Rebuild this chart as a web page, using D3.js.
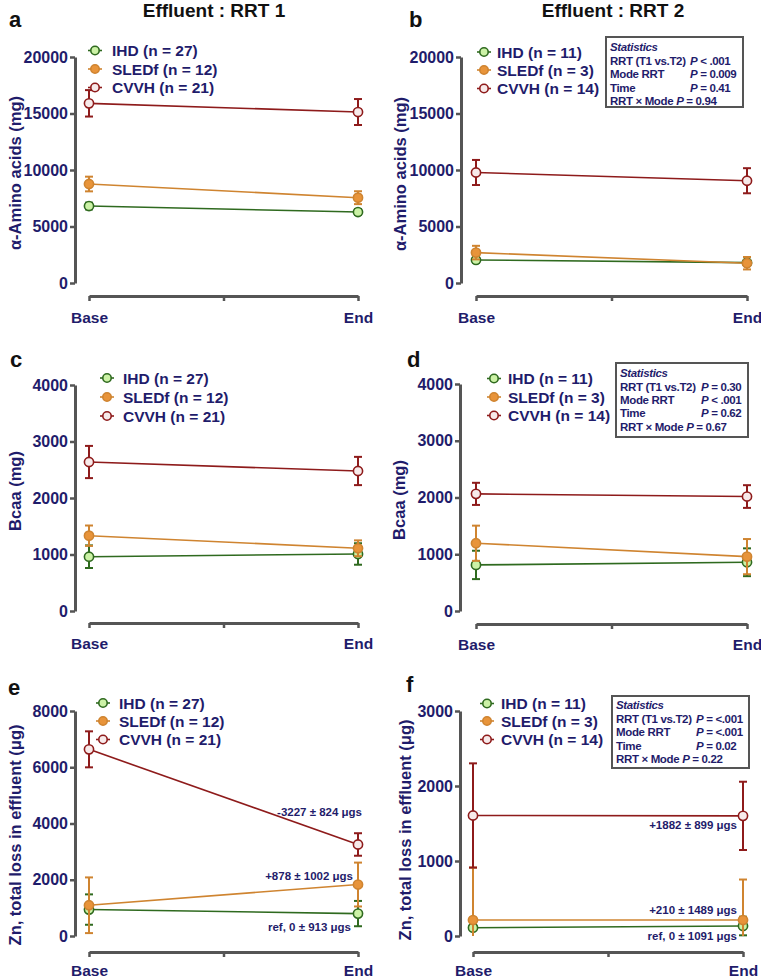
<!DOCTYPE html>
<html>
<head>
<meta charset="utf-8">
<script src="https://cdn.jsdelivr.net/npm/d3@7/dist/d3.min.js"></script>
<style>
  html, body { margin: 0; padding: 0; background: #fff; }
  svg { display: block; font-family: "Liberation Sans", Arial, sans-serif; }
</style>
</head>
<body>
<svg id="chart" width="761" height="979"></svg>
<script>
// ---------------- DATA ----------------
const categories = ["Base", "End"];
const groups = ["IHD", "SLEDf", "CVVH"];
const nRRT1 = [27, 12, 21];
const nRRT2 = [11, 3, 14];
const titles = ["Effluent : RRT 1", "Effluent : RRT 2"];

// α-Amino acids (mg) – rows: IHD, SLEDf, CVVH ; cols: Base, End
const aaRRT1Mean = [[6810, 6280], [8760, 7550], [15900, 15130]];
const aaRRT1Sem  = [[300, 250], [650, 570], [1170, 1150]];
const aaRRT2Mean = [[2040, 1800], [2690, 1750], [9780, 9050]];
const aaRRT2Sem  = [[250, 220], [600, 550], [1110, 1110]];

// Bcaa (mg)
const bcaaRRT1Mean = [[961, 1009], [1333, 1110], [2637, 2478]];
const bcaaRRT1Sem  = [[200, 190], [180, 140], [285, 250]];
const bcaaRRT2Mean = [[812, 859], [1194, 958], [2064, 2017]];
const bcaaRRT2Sem  = [[250, 245], [310, 310], [195, 200]];

// Zn total loss in effluent (µg)
const znRRT1Mean = [[940, 797], [1093, 1830], [6637, 3254]];
const znRRT1Sem  = [[540, 450], [990, 780], [640, 400]];
const znRRT2Mean = [[111, 133], [213, 213], [1607, 1602]];
const znRRT2Sem  = [[125, 124], [700, 540], [695, 455]];

const yTicksAA = [0, 5000, 10000, 15000, 20000];
const yTicksBcaa = [0, 1000, 2000, 3000, 4000];
const yTicksZn1 = [0, 2000, 4000, 6000, 8000];
const yTicksZn2 = [0, 1000, 2000, 3000];

const znRRT1Notes = ["ref, 0 ± 913 μgs", "+878 ± 1002 μgs", "-3227 ± 824 μgs"];
const znRRT2Notes = ["ref, 0 ± 1091 μgs", "+210 ± 1489 μgs", "+1882 ± 899 μgs"];

const statsLabels = ["RRT (T1 vs.T2)", "Mode RRT", "Time", "RRT × Mode"];
const statsAA   = ["< .001", "= 0.009", "= 0.41", "= 0.94"];
const statsBcaa = ["= 0.30", "< .001", "= 0.62", "= 0.67"];
const statsZn   = ["= <.001", "= <.001", "= 0.02", "= 0.22"];

// ---------------- STYLE ----------------
const NAVY = "#1f1c6b";
const AXIS = "#555555";
const lineCol = ["#2f6a1f", "#cf8430", "#8e1b1b"];
const fillCol = ["#ccf2a6", "#e8943a", "#f7eaea"];

const svg = d3.select("#chart");

// titles
svg.append("text").attr("x", 214).attr("y", 17).attr("text-anchor", "middle")
  .attr("font-size", 19).attr("font-weight", "bold").attr("fill", "#111").text(titles[0]);
svg.append("text").attr("x", 613).attr("y", 17).attr("text-anchor", "middle")
  .attr("font-size", 19).attr("font-weight", "bold").attr("fill", "#111").text(titles[1]);

function panel(c) {
  const g = svg.append("g");
  g.append("text").attr("x", c.letter[1]).attr("y", c.letter[2])
    .attr("font-size", 22).attr("font-weight", "bold").attr("fill", "#111").text(c.letter[0]);

  const y = d3.scaleLinear().domain([0, d3.max(c.ticks)]).range([c.yBottom, c.yTop]);
  const xl = d3.scaleLinear().domain([0, 1]).range([c.xLeft, c.xRight]);
  const x = d3.scalePoint().domain(categories).range([c.xLeft, c.xRight]);

  // y axis
  const ya = g.append("g").attr("transform", `translate(${c.yAxisX},0)`)
    .call(d3.axisLeft(y).tickValues(c.ticks).tickFormat(d3.format("d"))
      .tickSize(5).tickSizeOuter(0).tickPadding(2));
  ya.select(".domain").attr("stroke", AXIS).attr("stroke-width", 3);
  ya.selectAll(".tick line").attr("stroke", AXIS).attr("stroke-width", 2.5);
  ya.selectAll(".tick text").attr("fill", NAVY).attr("font-size", 16)
    .attr("font-weight", "bold").attr("font-family", "Liberation Sans, Arial, sans-serif");

  // x axis (separate, offset)
  const xa = g.append("g").attr("transform", `translate(0,${c.xAxisY})`)
    .call(d3.axisBottom(xl).tickValues([0, 0.5, 1])
      .tickFormat(d => d === 0 ? categories[0] : d === 1 ? categories[1] : "")
      .tickSize(5).tickSizeOuter(0).tickPadding(c.xPad));
  xa.select(".domain").attr("stroke", AXIS).attr("stroke-width", 3);
  xa.selectAll(".tick line").attr("stroke", AXIS).attr("stroke-width", 2.5);
  xa.selectAll(".tick text").attr("fill", NAVY).attr("font-size", 15.5)
    .attr("font-weight", "bold").attr("font-family", "Liberation Sans, Arial, sans-serif");

  // y label
  g.append("text").attr("transform", `translate(${c.ylab[0]},${c.ylab[1]}) rotate(-90)`)
    .attr("text-anchor", "middle").attr("dominant-baseline", "central")
    .attr("font-size", 16.5).attr("font-weight", "bold").attr("fill", NAVY)
    .text(c.ylabel);

  // series
  groups.forEach((grp, i) => {
    const pts = categories.map((cat, j) => ({ cat, m: c.means[i][j], s: c.sems[i][j] }));
    const sg = g.append("g");
    sg.append("path").datum(pts)
      .attr("d", d3.line().x(d => x(d.cat)).y(d => y(d.m)))
      .attr("fill", "none").attr("stroke", lineCol[i]).attr("stroke-width", 1.6);
    pts.forEach(d => {
      const top = y(d.m + d.s), bot = y(Math.max(0, d.m - d.s));
      sg.append("line").attr("x1", x(d.cat)).attr("x2", x(d.cat)).attr("y1", top).attr("y2", bot)
        .attr("stroke", lineCol[i]).attr("stroke-width", 2);
      sg.append("line").attr("x1", x(d.cat) - 4).attr("x2", x(d.cat) + 4).attr("y1", top).attr("y2", top)
        .attr("stroke", lineCol[i]).attr("stroke-width", 2);
      if (d.m - d.s > 0)
        sg.append("line").attr("x1", x(d.cat) - 4).attr("x2", x(d.cat) + 4).attr("y1", bot).attr("y2", bot)
          .attr("stroke", lineCol[i]).attr("stroke-width", 2);
    });
    sg.selectAll("circle").data(pts).join("circle")
      .attr("cx", d => x(d.cat)).attr("cy", d => y(d.m)).attr("r", 4.6)
      .attr("fill", fillCol[i]).attr("stroke", lineCol[i]).attr("stroke-width", 1.6);
  });

  // legend
  groups.forEach((grp, i) => {
    const ly = c.leg.y[i];
    g.append("line").attr("x1", c.leg.mx - 7).attr("x2", c.leg.mx + 7).attr("y1", ly).attr("y2", ly)
      .attr("stroke", lineCol[i]).attr("stroke-width", 1.6);
    g.append("circle").attr("cx", c.leg.mx).attr("cy", ly).attr("r", 4.2)
      .attr("fill", fillCol[i]).attr("stroke", lineCol[i]).attr("stroke-width", 1.6);
    g.append("text").attr("x", c.leg.tx).attr("y", ly).attr("dominant-baseline", "central")
      .attr("font-size", 15.5).attr("font-weight", "bold").attr("fill", NAVY)
      .text(`${grp} (n = ${c.ns[i]})`);
  });

  // notes
  if (c.notes) {
    groups.forEach((grp, i) => {
      g.append("text").attr("x", c.noteX[i]).attr("y", y(c.means[i][1]) + c.noteDy[i])
        .attr("text-anchor", "end").attr("dominant-baseline", "central")
        .attr("font-size", 11.5).attr("font-weight", "bold").attr("fill", NAVY)
        .text(c.notes[i]);
    });
  }

  // stats box
  if (c.stats) {
    const b = c.box;
    g.append("rect").attr("x", b.x).attr("y", b.y).attr("width", b.w).attr("height", b.h)
      .attr("fill", "#fff").attr("stroke", AXIS).attr("stroke-width", 2);
    const fs = 11.5, ls = -0.35;
    g.append("text").attr("x", b.x + 4).attr("y", b.rows[0]).attr("dominant-baseline", "central")
      .attr("font-size", fs).attr("font-weight", "bold").attr("font-style", "italic").attr("fill", NAVY)
      .attr("letter-spacing", ls).text("Statistics");
    statsLabels.forEach((lab, k) => {
      const ry = b.rows[k + 1];
      if (k < 3) {
        g.append("text").attr("x", b.x + 4).attr("y", ry).attr("dominant-baseline", "central")
          .attr("font-size", fs).attr("font-weight", "bold").attr("fill", NAVY)
          .attr("letter-spacing", ls).text(lab);
        const t = g.append("text").attr("x", b.px).attr("y", ry).attr("dominant-baseline", "central")
          .attr("font-size", fs).attr("font-weight", "bold").attr("fill", NAVY).attr("letter-spacing", ls);
        t.append("tspan").attr("font-style", "italic").text("P");
        t.append("tspan").text(" " + c.stats[k]);
      } else {
        const t = g.append("text").attr("x", b.x + 4).attr("y", ry).attr("dominant-baseline", "central")
          .attr("font-size", fs).attr("font-weight", "bold").attr("fill", NAVY).attr("letter-spacing", ls);
        t.append("tspan").text(lab + " ");
        t.append("tspan").attr("font-style", "italic").text("P");
        t.append("tspan").text(" " + c.stats[k]);
      }
    });
  }
}

panel({
  letter: ["a", 9, 27], ticks: yTicksAA, means: aaRRT1Mean, sems: aaRRT1Sem, ns: nRRT1,
  yAxisX: 75, yTop: 57, yBottom: 283, xAxisY: 296, xLeft: 89, xRight: 358, xPad: 11,
  ylab: [15, 173], ylabel: "α-Amino acids (mg)",
  leg: { mx: 95, tx: 112, y: [50.5, 69, 87.5] }
});
panel({
  letter: ["b", 409, 27], ticks: yTicksAA, means: aaRRT2Mean, sems: aaRRT2Sem, ns: nRRT2,
  yAxisX: 461, yTop: 57, yBottom: 283, xAxisY: 296, xLeft: 476, xRight: 747, xPad: 11,
  ylab: [400, 174], ylabel: "α-Amino acids (mg)",
  leg: { mx: 484, tx: 497, y: [52, 70, 88.5] },
  stats: statsAA, box: { x: 606, y: 37, w: 137, h: 70, px: 690, rows: [47, 60.5, 74, 87.5, 101] }
});
panel({
  letter: ["c", 10, 367], ticks: yTicksBcaa, means: bcaaRRT1Mean, sems: bcaaRRT1Sem, ns: nRRT1,
  yAxisX: 75, yTop: 385, yBottom: 611, xAxisY: 623, xLeft: 89, xRight: 358, xPad: 10,
  ylab: [15, 491], ylabel: "Bcaa (mg)",
  leg: { mx: 107, tx: 123, y: [378, 397, 416] }
});
panel({
  letter: ["d", 407, 367], ticks: yTicksBcaa, means: bcaaRRT2Mean, sems: bcaaRRT2Sem, ns: nRRT2,
  yAxisX: 460, yTop: 384, yBottom: 611, xAxisY: 624, xLeft: 476, xRight: 747, xPad: 10,
  ylab: [399, 500], ylabel: "Bcaa (mg)",
  leg: { mx: 494, tx: 508, y: [378.5, 397, 415.5] },
  stats: statsBcaa, box: { x: 616, y: 363, w: 132, h: 74, px: 701, rows: [373, 386.7, 400, 413.3, 427] }
});
panel({
  letter: ["e", 8, 695], ticks: yTicksZn1, means: znRRT1Mean, sems: znRRT1Sem, ns: nRRT1,
  yAxisX: 75, yTop: 711, yBottom: 936, xAxisY: 952, xLeft: 89, xRight: 358, xPad: 8,
  ylab: [15, 835], ylabel: "Zn, total loss in effluent (μg)",
  leg: { mx: 103, tx: 119, y: [703, 721, 739.5] },
  notes: znRRT1Notes, noteX: [351, 353, 362], noteDy: [13, -8.5, -32]
});
panel({
  letter: ["f", 406, 692], ticks: yTicksZn2, means: znRRT2Mean, sems: znRRT2Sem, ns: nRRT2,
  yAxisX: 460, yTop: 711, yBottom: 936, xAxisY: 952, xLeft: 473, xRight: 743, xPad: 8,
  ylab: [405, 830], ylabel: "Zn, total loss in effluent (μg)",
  leg: { mx: 487, tx: 501, y: [703.5, 721, 739.5] },
  notes: znRRT2Notes, noteX: [737, 737, 737], noteDy: [10, -10, 9.5],
  stats: statsZn, box: { x: 612, y: 696, w: 137, h: 72, px: 696, rows: [705, 718.5, 732, 745.5, 759] }
});
</script>
</body>
</html>
